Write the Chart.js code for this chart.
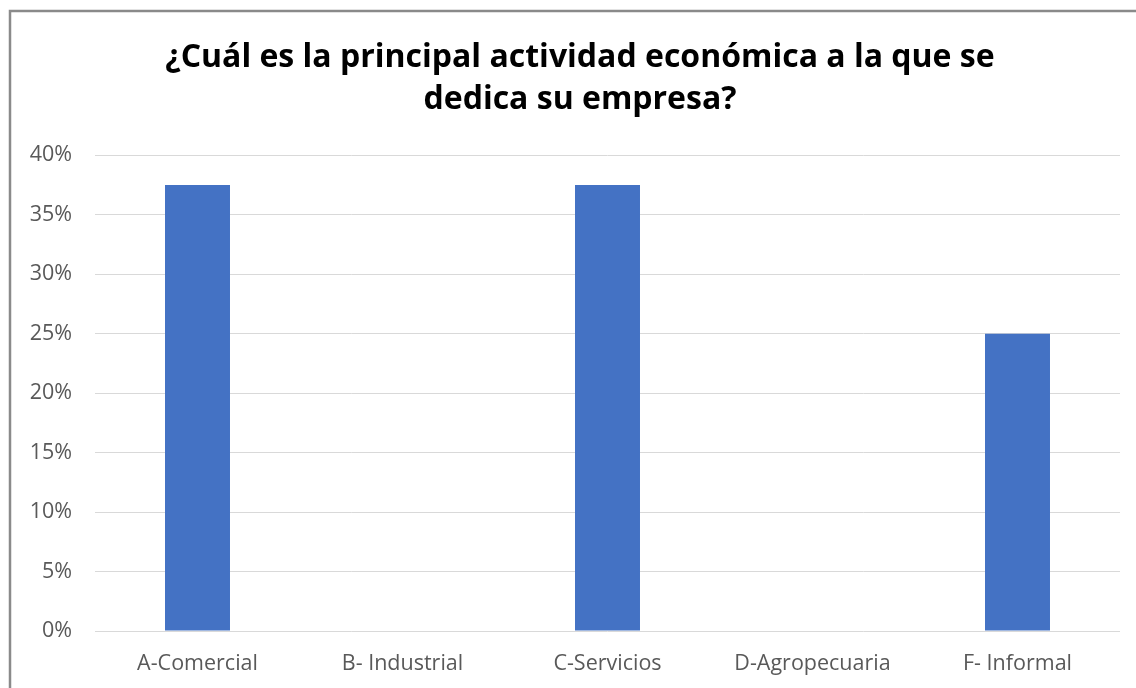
<!DOCTYPE html>
<html>
<head>
<meta charset="utf-8">
<script src="https://cdn.jsdelivr.net/npm/chart.js@4.4.1/dist/chart.umd.min.js"></script>
<style>
  html, body { margin: 0; padding: 0; background: #ffffff; }
  #wrap { width: 1136px; height: 688px; position: relative; }
</style>
</head>
<body>
<div id="wrap"><canvas id="chart" width="1136" height="688"></canvas></div>
<script>
// Survey answers: main economic activity of the business
const categories = ['A-Comercial', 'B- Industrial', 'C-Servicios', 'D-Agropecuaria', 'F- Informal'];
const shares = [37.5, 0, 37.5, 0, 25];
const titleLines = ['¿Cuál es la principal actividad económica a la que se', 'dedica su empresa?'];
const yMax = 40;
const yStep = 5;
const yTickLabels = ['0%', '5%', '10%', '15%', '20%', '25%', '30%', '35%', '40%'];

const fontFamily = '"Open Sans", "Noto Sans", sans-serif';
const tickFontSize = 21.5;

// Width of the widest y tick label, used to right-align the labels left of the plot
const measureCtx = document.createElement('canvas').getContext('2d');
measureCtx.font = tickFontSize + 'px ' + fontFamily;
const widestYLabel = Math.max(...yTickLabels.map(t => measureCtx.measureText(t).width));
const yLabelGap = 23;

// Frame around the chart panel (left and top edges)
const framePlugin = {
  id: 'frame',
  afterDraw(chart) {
    const ctx = chart.ctx;
    ctx.save();
    ctx.strokeStyle = '#8a8a8a';
    ctx.lineWidth = 2.5;
    ctx.beginPath();
    ctx.moveTo(10, 688);
    ctx.lineTo(10, 11);
    ctx.lineTo(1136, 11);
    ctx.stroke();
    ctx.restore();
  }
};

new Chart(document.getElementById('chart'), {
  type: 'bar',
  data: {
    labels: categories,
    datasets: [{
      data: shares,
      backgroundColor: '#4472C4',
      borderWidth: 0,
      barPercentage: 0.317,
      categoryPercentage: 1.0
    }]
  },
  options: {
    responsive: false,
    animation: false,
    layout: { padding: { left: 40, right: 16, top: 10, bottom: 12 } },
    plugins: {
      legend: { display: false },
      tooltip: { enabled: false },
      title: {
        display: true,
        text: titleLines,
        color: '#000000',
        font: { family: fontFamily, size: 32, weight: 'bold', lineHeight: 1.34 },
        padding: { top: 26, bottom: 33.5 }
      }
    },
    scales: {
      x: {
        grid: { display: false, drawTicks: false },
        border: { display: false },
        ticks: { color: '#595959', font: { family: fontFamily, size: tickFontSize }, padding: 20, maxRotation: 0 },
        afterFit(scale) { scale.height = 45; }
      },
      y: {
        min: 0,
        max: yMax,
        grid: { color: '#d9d9d9', lineWidth: 1, drawTicks: false },
        border: { display: false },
        ticks: {
          stepSize: yStep,
          color: '#595959',
          font: { family: fontFamily, size: tickFontSize },
          mirror: true,
          crossAlign: 'far',
          padding: -(yLabelGap + widestYLabel),
          callback: (v) => yTickLabels[Math.round(v / yStep)]
        },
        afterFit(scale) { scale.width = 55; }
      }
    }
  },
  plugins: [framePlugin]
});
</script>
</body>
</html>
